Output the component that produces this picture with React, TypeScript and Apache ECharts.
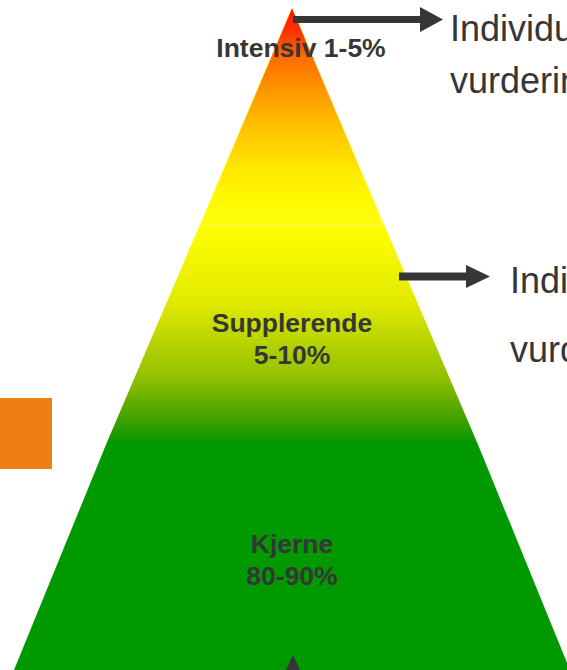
import React, { useEffect, useRef } from "react";
import * as echarts from "echarts";

// Tiers of the pyramid (top to bottom) and their shares
const tiers = ["Intensiv", "Supplerende", "Kjerne"];
const shares = ["1-5%", "5-10%", "80-90%"];
// Relative width level of each tier (bottom edge), pyramid grows linearly
const tierLevels = [1, 2, 3];
// Side annotations
const sideNotes = [
  ["Individuell", "vurdering"],
  ["Individuell", "vurdering"],
];

export default function App() {
  const ref = useRef<HTMLDivElement>(null);
  useEffect(() => {
    if (!ref.current) return;
    const chart = echarts.init(ref.current, undefined, { renderer: "svg" });
    const bandHeights = [219, 217, 227];
    const bandColors: any[] = [
      new echarts.graphic.LinearGradient(0, 0, 0, 1, [
        { offset: 0, color: "#ff1000" },
        { offset: 0.13, color: "#ff3c00" },
        { offset: 0.24, color: "#ff7000" },
        { offset: 0.42, color: "#ffa000" },
        { offset: 0.58, color: "#ffc800" },
        { offset: 0.74, color: "#ffe800" },
        { offset: 0.88, color: "#fff800" },
        { offset: 1, color: "#ffff10" },
      ]),
      new echarts.graphic.LinearGradient(0, 0, 0, 1, [
        { offset: 0, color: "#ffff00" },
        { offset: 0.35, color: "#e2ea00" },
        { offset: 0.7, color: "#90c000" },
        { offset: 0.9, color: "#3e9e00" },
        { offset: 1, color: "#009900" },
      ]),
      "#009900",
    ];
    const labelDx = [9, 0, 0];
    const labelDy = [-69, 4, 3];
    const textColor = "#363636";
    const noteFont = "36px 'Liberation Sans', Arial, sans-serif";
    chart.setOption({
      animation: false,
      series: [
        {
          type: "funnel",
          sort: "ascending",
          left: 14,
          top: 7,
          width: 556,
          height: 663,
          min: 0,
          max: 3,
          minSize: "0%",
          maxSize: "100%",
          gap: 0,
          silent: true,
          label: {
            show: true,
            position: "inside",
            color: textColor,
            fontSize: 26.5,
            fontWeight: "bold",
            fontFamily: "'Liberation Sans', Arial, sans-serif",
            lineHeight: 32,
            textBorderWidth: 0,
            formatter: (p: any) =>
              p.dataIndex === 0
                ? `${tiers[p.dataIndex]} ${shares[p.dataIndex]}`
                : `${tiers[p.dataIndex]}\n${shares[p.dataIndex]}`,
          },
          labelLayout: (p: any) => ({ dx: labelDx[p.dataIndex], dy: labelDy[p.dataIndex] }),
          emphasis: { disabled: true },
          data: tiers.map((t, i) => ({
            name: t,
            value: tierLevels[i],
            itemStyle: {
              color: bandColors[i],
              height: bandHeights[i],
              borderWidth: i === 0 ? 1 : 0,
              borderColor: "#ffffa8",
            },
          })),
        },
      ],
      graphic: [
        {
          type: "line",
          z: 100,
          shape: { x1: 293, y1: 19.5, x2: 424, y2: 19.5 },
          style: { stroke: textColor, lineWidth: 7 },
        },
        {
          type: "polygon",
          z: 100,
          shape: { points: [[420, 7], [443, 19.5], [420, 32]] },
          style: { fill: textColor },
        },
        {
          type: "line",
          z: 100,
          shape: { x1: 399, y1: 276.5, x2: 470, y2: 276.5 },
          style: { stroke: textColor, lineWidth: 8 },
        },
        {
          type: "polygon",
          z: 100,
          shape: { points: [[466, 265], [490, 276.5], [466, 288]] },
          style: { fill: textColor },
        },
        {
          type: "polygon",
          z: 100,
          shape: { points: [[293, 655], [301, 672], [285, 672]] },
          style: { fill: textColor },
        },
        {
          type: "rect",
          z: 100,
          shape: { x: 0, y: 398, width: 52, height: 71 },
          style: { fill: "#ee7f14" },
        },
        {
          type: "text",
          z: 100,
          x: 450,
          y: 28,
          style: { text: sideNotes[0][0], font: noteFont, fill: textColor, verticalAlign: "middle" },
        },
        {
          type: "text",
          z: 100,
          x: 450,
          y: 80,
          style: { text: sideNotes[0][1], font: noteFont, fill: textColor, verticalAlign: "middle" },
        },
        {
          type: "text",
          z: 100,
          x: 510,
          y: 280,
          style: { text: sideNotes[1][0], font: noteFont, fill: textColor, verticalAlign: "middle" },
        },
        {
          type: "text",
          z: 100,
          x: 510,
          y: 349,
          style: { text: sideNotes[1][1], font: noteFont, fill: textColor, verticalAlign: "middle" },
        },
      ],
    });
    return () => chart.dispose();
  }, []);
  return (
    <div
      ref={ref}
      style={{ position: "absolute", left: 0, top: 0, width: 567, height: 670 }}
    />
  );
}
